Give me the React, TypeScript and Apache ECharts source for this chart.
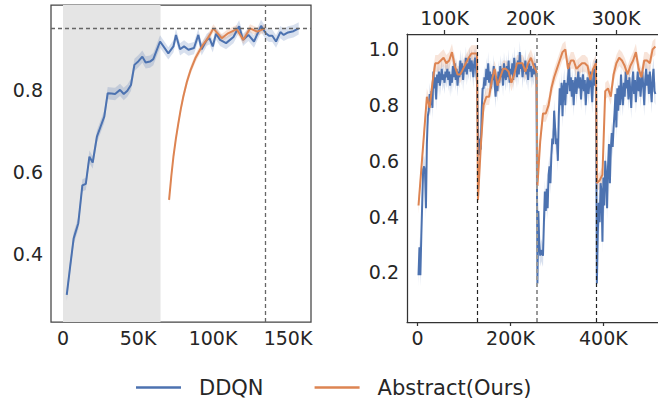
import React, { useEffect, useRef } from 'react';
import * as echarts from 'echarts';

const BLUE = '#4c72b0';
const ORANGE = '#dd8452';
const TEXT = '#262626';
const FONT = 'DejaVu Sans';

// ---------- Left panel (steps in thousands) ----------
const leftDdqnSteps = [2.5, 4.8, 7.1, 10.2, 12.9, 15.2, 17.6, 19.8, 22.6, 25.2, 27.5, 29.8, 32.3, 34.7, 38.0, 40.5, 42.9, 45.3, 47.6, 50.3, 52.9, 55.1, 58.0, 60.2, 64.7, 70.2, 73.6, 75.3, 78.0, 80.7, 83.6, 87.3, 90.2, 92.4, 95.8, 97.6, 99.8, 102.0, 104.7, 108.7, 113.6, 117.4, 120.0, 123.6, 127.3, 132.0, 135.2, 137.3, 139.5, 142.0, 144.9, 147.1, 150.0, 153.6, 157.1];
const leftDdqnValues = [0.300, 0.370, 0.438, 0.475, 0.567, 0.571, 0.637, 0.623, 0.686, 0.712, 0.735, 0.792, 0.791, 0.790, 0.800, 0.790, 0.798, 0.812, 0.861, 0.870, 0.881, 0.867, 0.869, 0.875, 0.918, 0.889, 0.906, 0.934, 0.899, 0.906, 0.898, 0.902, 0.934, 0.899, 0.922, 0.926, 0.906, 0.937, 0.922, 0.914, 0.929, 0.955, 0.922, 0.934, 0.918, 0.956, 0.938, 0.932, 0.932, 0.918, 0.941, 0.934, 0.940, 0.943, 0.950];
const leftAbsSteps = [70.7, 72.2, 73.6, 75.2, 76.9, 78.5, 80.2, 82.6, 85.1, 88.2, 91.3, 93.5, 95.8, 98.3, 100.2, 105.8, 110.0, 115.8, 120.2, 124.7, 129.5, 134.7];
const leftAbsValues = [0.532, 0.590, 0.637, 0.680, 0.719, 0.753, 0.784, 0.820, 0.849, 0.877, 0.898, 0.911, 0.922, 0.937, 0.950, 0.926, 0.938, 0.948, 0.922, 0.950, 0.942, 0.950];
const leftDdqnSpread = 0.015;
const leftAbsSpread = 0.01;
const leftShade = [0, 65000];
const leftVLine = 135000;
const leftHLine = 0.95;
const leftXTicks = [0, 50000, 100000, 150000];
const leftYTicks = [0.4, 0.6, 0.8];

// ---------- Right panel ----------
const rightSegStarts = [2000, 130000, 258000, 386000];
const switchLines = [129000, 257000, 385000];
const rightDdqnStep = 2000;
const rightDdqnSeg1 = [0.19, 0.29, 0.19, 0.33, 0.45, 0.57, 0.58, 0.56, 0.43, 0.66, 0.76, 0.78, 0.84, 0.80, 0.85, 0.79, 0.92, 0.86, 0.90, 0.82, 0.91, 0.88, 0.92, 0.87, 0.90, 0.93, 0.89, 0.91, 0.88, 0.92, 0.90, 0.93, 0.89, 0.92, 0.87, 0.91, 0.88, 0.94, 0.90, 0.95, 0.89, 0.93, 0.87, 0.92, 0.90, 0.96, 0.91, 0.95, 0.89, 0.94, 0.92, 0.97, 0.91, 0.95, 0.93, 0.97, 0.92, 0.96, 0.94, 0.90, 0.95, 0.97, 0.93, 0.88];
const rightDdqnSeg2 = [0.70, 0.62, 0.68, 0.64, 0.78, 0.86, 0.86, 0.90, 0.87, 0.93, 0.89, 0.95, 0.88, 0.92, 0.86, 0.91, 0.89, 0.94, 0.87, 0.83, 0.90, 0.85, 0.92, 0.88, 0.94, 0.90, 0.93, 0.87, 0.95, 0.91, 0.89, 0.94, 0.90, 0.96, 0.88, 0.93, 0.91, 0.95, 0.89, 0.97, 0.92, 0.94, 0.90, 0.96, 0.91, 0.99, 0.93, 0.95, 0.90, 0.94, 0.92, 0.96, 0.91, 0.93, 0.89, 0.95, 0.92, 0.94, 0.90, 0.93, 0.91, 0.95, 0.92, 0.90];
const rightDdqnSeg3 = [0.16, 0.42, 0.30, 0.26, 0.28, 0.27, 0.26, 0.38, 0.49, 0.42, 0.50, 0.43, 0.55, 0.58, 0.52, 0.62, 0.68, 0.66, 0.78, 0.72, 0.66, 0.68, 0.60, 0.76, 0.86, 0.80, 0.88, 0.76, 0.86, 0.89, 0.80, 0.88, 0.84, 0.90, 0.95, 0.85, 0.90, 0.83, 0.89, 0.80, 0.87, 0.90, 0.84, 0.88, 0.92, 0.86, 0.90, 0.82, 0.88, 0.91, 0.85, 0.89, 0.80, 0.86, 0.90, 0.84, 0.88, 0.92, 0.86, 0.81, 0.89, 0.93, 0.87, 0.96];
const rightDdqnSeg4 = [0.16, 0.34, 0.45, 0.38, 0.52, 0.49, 0.31, 0.54, 0.44, 0.60, 0.55, 0.43, 0.58, 0.66, 0.52, 0.64, 0.70, 0.65, 0.72, 0.77, 0.84, 0.72, 0.86, 0.78, 0.87, 0.80, 0.91, 0.84, 0.80, 0.88, 0.83, 0.92, 0.86, 0.89, 0.82, 0.90, 0.85, 0.79, 0.88, 0.92, 0.84, 0.89, 0.81, 0.87, 0.92, 0.85, 0.90, 0.83, 0.88, 0.92, 0.86, 0.80, 0.89, 0.93, 0.87, 0.91, 0.84, 0.92, 0.86, 0.81, 0.90, 0.93, 0.85, 0.84];
const rightAbsStep = 6000;
const rightAbsSeg1 = [0.44, 0.57, 0.70, 0.83, 0.79, 0.88, 0.95, 0.95, 0.96, 0.97, 0.95, 0.96, 0.99, 0.94, 0.91, 0.91, 0.93, 0.95, 0.97, 0.985, 0.985, 0.985];
const rightAbsSeg2 = [0.46, 0.65, 0.80, 0.83, 0.83, 0.89, 0.93, 0.87, 0.90, 0.93, 0.93, 0.92, 0.88, 0.91, 0.95, 0.95, 0.95, 0.92, 0.95, 0.97, 0.94, 0.92];
const rightAbsSeg3 = [0.51, 0.67, 0.77, 0.77, 0.80, 0.86, 0.90, 0.93, 0.96, 0.99, 1.00, 0.93, 0.96, 0.96, 0.93, 0.94, 0.95, 0.95, 0.94, 0.89, 0.93, 0.95];
const rightAbsSeg4 = [0.52, 0.53, 0.55, 0.85, 0.86, 0.83, 0.91, 0.95, 0.97, 0.96, 0.94, 0.91, 0.94, 0.96, 0.99, 0.93, 0.90, 0.96, 0.96, 0.95, 1.00, 1.01];
const rightDdqnSpread = 0.04;
const rightAbsSpread = 0.03;
const rightXTicks = [0, 200000, 400000];
const rightTopTicks = [100000, 200000, 300000];
const rightYTicks = [0.2, 0.4, 0.6, 0.8, 1.0];

const fmtK = (v: number) => (v === 0 ? '0' : `${Math.round(v / 1000)}K`);

function pairs(steps: number[], values: number[], scale: number) {
  return steps.map((s, i) => [s * scale, values[i]]);
}
function segPairs(segs: number[][], step: number) {
  const out: number[][] = [];
  segs.forEach((vals, k) => vals.forEach((v, i) => out.push([rightSegStarts[k] + i * step, v])));
  return out;
}
function bandSeries(name: string, pts: number[][], spread: number, color: string, xi: number, yi: number) {
  const data = pts.map((p) => [p[0], p[1] - spread, p[1] + spread]);
  return {
    type: 'custom',
    name,
    xAxisIndex: xi,
    yAxisIndex: yi,
    silent: true,
    z: 2,
    data,
    encode: { x: 0, y: [1, 2] },
    renderItem: (params: any, api: any) => {
      if (params.dataIndex !== 0) return null;
      const up = data.map((d) => api.coord([d[0], d[2]]));
      const lo = data.map((d) => api.coord([d[0], d[1]])).reverse();
      return { type: 'polygon', shape: { points: up.concat(lo) }, style: { fill: color, opacity: 0.22 } };
    },
  };
}

const labelStyle = { fontSize: 19, color: TEXT, fontFamily: FONT };
const spine = { show: true, onZero: false, lineStyle: { color: '#333', width: 1.25 } };

export default function App() {
  const ref = useRef<HTMLDivElement>(null);
  useEffect(() => {
    if (!ref.current) return;
    const chart = echarts.init(ref.current, undefined, { renderer: 'svg' });
    const lDdqn = pairs(leftDdqnSteps, leftDdqnValues, 1000);
    const lAbs = pairs(leftAbsSteps, leftAbsValues, 1000);
    const rDdqn = segPairs([rightDdqnSeg1, rightDdqnSeg2, rightDdqnSeg3, rightDdqnSeg4], rightDdqnStep);
    const rAbs = segPairs([rightAbsSeg1, rightAbsSeg2, rightAbsSeg3, rightAbsSeg4], rightAbsStep);
    const dash = (color: string, width: number) => ({ type: [4, 3], color, width });
    chart.setOption({
      animation: false,
      grid: [
        { left: 51, top: 5, width: 260, height: 317, show: true, borderColor: '#444', borderWidth: 1.25, backgroundColor: 'transparent' },
        { left: 407, top: 34, width: 260, height: 288 },
      ],
      xAxis: [
        {
          type: 'value', gridIndex: 0, min: -8000, max: 165300,
          axisLine: { show: false }, axisTick: { show: false }, splitLine: { show: false },
          axisLabel: { ...labelStyle, customValues: leftXTicks, formatter: fmtK, margin: 6 },
        },
        {
          type: 'value', gridIndex: 1, position: 'bottom', min: -22800, max: 517600,
          axisLine: spine, splitLine: { show: false },
          axisTick: { show: true, customValues: rightXTicks, length: 4, lineStyle: { color: '#333', width: 1.25 } },
          axisLabel: { ...labelStyle, customValues: rightXTicks, formatter: fmtK, margin: 6 },
        },
        {
          type: 'value', gridIndex: 1, position: 'top', min: 56200, max: 349000,
          axisLine: spine, splitLine: { show: false },
          axisTick: { show: true, customValues: rightTopTicks, length: 4, lineStyle: { color: '#333', width: 1.25 } },
          axisLabel: { ...labelStyle, customValues: rightTopTicks, formatter: fmtK, margin: 7 },
        },
      ],
      yAxis: [
        {
          type: 'value', gridIndex: 0, min: 0.234, max: 1.007,
          axisLine: { show: false }, axisTick: { show: false }, splitLine: { show: false },
          axisLabel: { ...labelStyle, customValues: leftYTicks, formatter: (v: number) => v.toFixed(1), margin: 8 },
        },
        {
          type: 'value', gridIndex: 1, min: 0.022, max: 1.055,
          axisLine: spine, axisTick: { show: false }, splitLine: { show: false },
          axisLabel: { ...labelStyle, customValues: rightYTicks, formatter: (v: number) => v.toFixed(1), margin: 8 },
        },
      ],
      legend: {
        data: ['DDQN', 'Abstract(Ours)'],
        left: 131, top: 372, icon: 'rect', itemWidth: 45, itemHeight: 2.5, itemGap: 51,
        textStyle: { fontSize: 21, color: TEXT, fontFamily: FONT, padding: [0, 0, 0, 13] },
      },
      series: [
        {
          type: 'line', name: 'marksLeft', xAxisIndex: 0, yAxisIndex: 0, data: [], z: 0,
          markArea: { silent: true, itemStyle: { color: '#e5e5e5' }, data: [[{ xAxis: leftShade[0] }, { xAxis: leftShade[1] }]] },
          markLine: {
            silent: true, symbol: ['none', 'none'], label: { show: false },
            data: [
              { xAxis: leftVLine, lineStyle: dash('#666', 1.3) },
              { yAxis: leftHLine, lineStyle: dash('#666', 1.3) },
            ],
          },
        },
        {
          type: 'line', name: 'marksRight', xAxisIndex: 1, yAxisIndex: 1, data: [], z: 5,
          markLine: {
            silent: true, symbol: ['none', 'none'], label: { show: false },
            data: [
              { xAxis: switchLines[0], lineStyle: dash('#222', 1.2) },
              { xAxis: switchLines[1], lineStyle: dash('#999', 2) },
              { xAxis: switchLines[2], lineStyle: dash('#222', 1.2) },
            ],
          },
        },
        bandSeries('bandL1', lDdqn, leftDdqnSpread, BLUE, 0, 0),
        bandSeries('bandL2', lAbs, leftAbsSpread, ORANGE, 0, 0),
        bandSeries('bandR1', rDdqn, rightDdqnSpread, BLUE, 1, 1),
        bandSeries('bandR2', rAbs, rightAbsSpread, ORANGE, 1, 1),
        { type: 'line', name: 'DDQN', xAxisIndex: 0, yAxisIndex: 0, data: lDdqn, showSymbol: false, symbol: 'none', z: 3, color: BLUE, lineStyle: { color: BLUE, width: 2 } },
        { type: 'line', name: 'Abstract(Ours)', xAxisIndex: 0, yAxisIndex: 0, data: lAbs, showSymbol: false, symbol: 'none', z: 4, color: ORANGE, lineStyle: { color: ORANGE, width: 2 } },
        { type: 'line', name: 'DDQN', xAxisIndex: 1, yAxisIndex: 1, data: rDdqn, showSymbol: false, symbol: 'none', z: 3, color: BLUE, lineStyle: { color: BLUE, width: 2 } },
        { type: 'line', name: 'Abstract(Ours)', xAxisIndex: 1, yAxisIndex: 1, data: rAbs, showSymbol: false, symbol: 'none', z: 4, color: ORANGE, lineStyle: { color: ORANGE, width: 2 } },
      ],
    });
    return () => chart.dispose();
  }, []);
  return <div ref={ref} style={{ position: 'absolute', left: 0, top: 0, width: 658, height: 402 }} />;
}
